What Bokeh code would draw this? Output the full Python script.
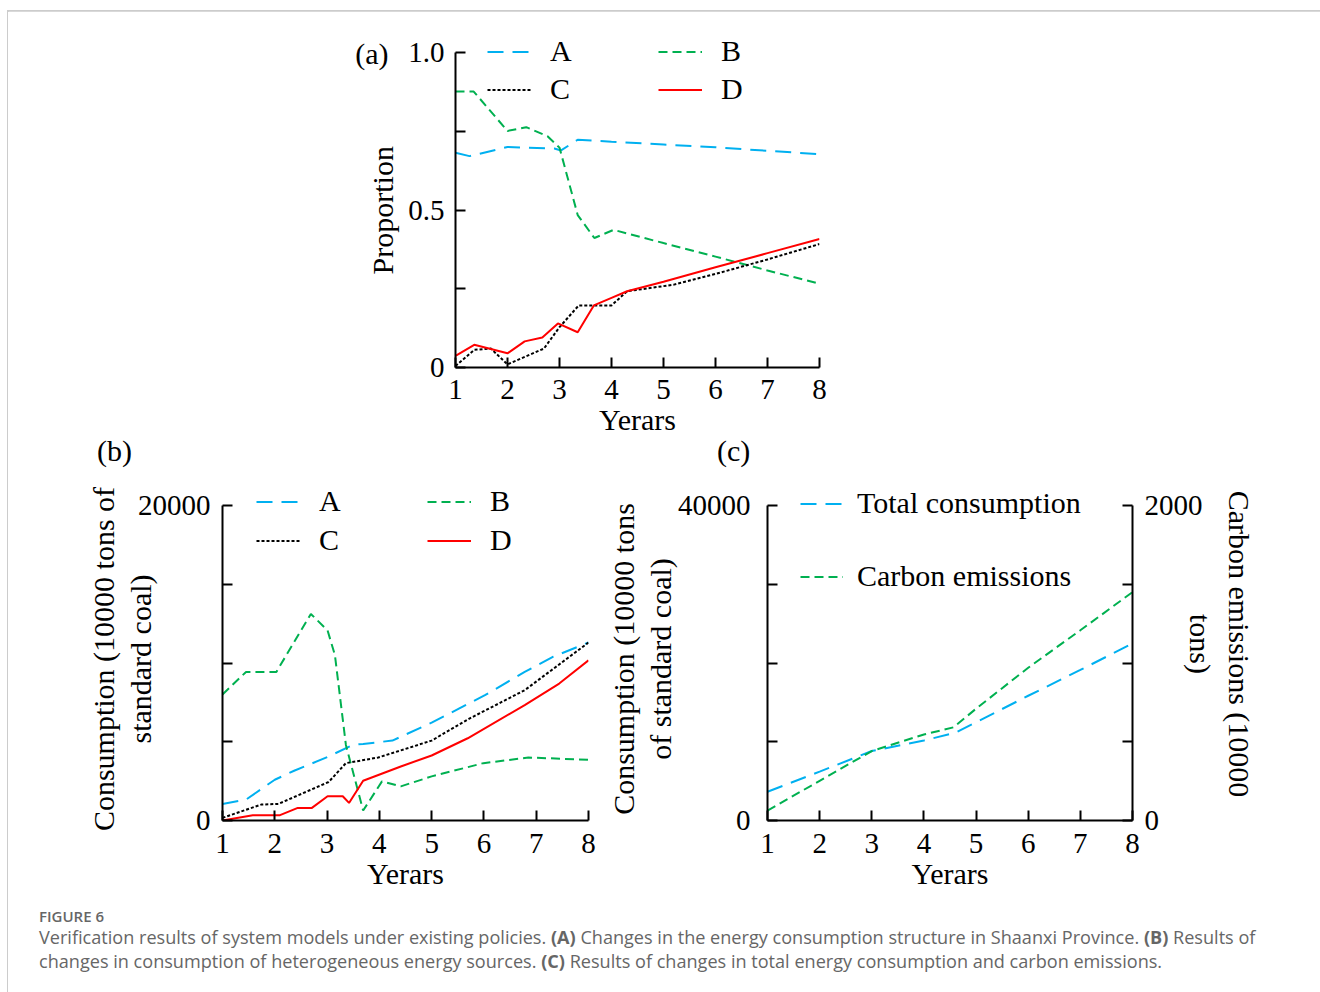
from bokeh.plotting import figure
from bokeh.models import Range1d, LinearAxis, FixedTicker, Legend, LegendItem, Div
from bokeh.layouts import column, row
from bokeh.embed import file_html
from bokeh.resources import INLINE

# ---------------- data ----------------
year_ticks = [1, 2, 3, 4, 5, 6, 7, 8]

# (a) proportion of energy consumption structure
a_A_x = [1, 1.27, 2, 2.9, 3.03, 3.35, 4, 5, 6, 7, 8]
a_A_y = [0.682, 0.671, 0.700, 0.695, 0.689, 0.723, 0.717, 0.708, 0.699, 0.688, 0.677]
a_B_x = [1, 1.35, 2, 2.36, 2.77, 3, 3.35, 3.67, 4.04, 5, 6, 7, 8]
a_B_y = [0.876, 0.876, 0.751, 0.763, 0.734, 0.698, 0.484, 0.411, 0.437, 0.395, 0.352, 0.308, 0.266]
a_C_x = [1, 1.36, 1.68, 2, 2.7, 3, 3.37, 3.67, 4, 4.3, 5.2, 6, 7, 8]
a_C_y = [0.005, 0.056, 0.060, 0.010, 0.060, 0.128, 0.197, 0.197, 0.197, 0.242, 0.263, 0.297, 0.343, 0.392]
a_D_x = [1, 1.36, 2, 2.33, 2.67, 2.97, 3.35, 3.66, 4.0, 4.3, 5, 6, 7, 8]
a_D_y = [0.037, 0.072, 0.045, 0.083, 0.095, 0.140, 0.112, 0.197, 0.221, 0.242, 0.272, 0.318, 0.363, 0.408]

# (b) consumption of heterogeneous energy sources
b_A_x = [1, 1.45, 2.0, 2.37, 3.03, 3.49, 3.69, 4.25, 5.0, 5.53, 6.02, 6.78, 7.31, 8]
b_A_y = [1053, 1326, 2589, 3158, 4063, 4800, 4863, 5074, 6210, 7116, 7958, 9432, 10379, 11300]
b_B_x = [1, 1.45, 2.03, 2.69, 3.01, 3.15, 3.36, 3.69, 4.05, 4.41, 5.0, 5.99, 6.85, 8]
b_B_y = [8000, 9432, 9432, 13116, 12063, 10500, 4800, 632, 2484, 2168, 2800, 3642, 4000, 3853]
b_C_x = [1, 1.74, 2.07, 3.03, 3.36, 3.98, 5.0, 5.73, 6.78, 8]
b_C_y = [168, 1010, 1053, 2442, 3642, 4000, 5074, 6484, 8274, 11300]
b_D_x = [1, 1.58, 2.1, 2.44, 2.71, 3.01, 3.3, 3.42, 3.69, 4.41, 5.0, 5.69, 6.78, 7.44, 8]
b_D_y = [0, 337, 337, 800, 800, 1537, 1537, 1116, 2526, 3432, 4126, 5221, 7326, 8695, 10168]

# (c) total consumption (left axis) and carbon emissions (right axis)
c_total_x = [1, 2, 3, 4, 4.6, 5, 6, 7, 8]
c_total_y = [3655, 6200, 8824, 10168, 11134, 12479, 15840, 19118, 22479]
c_carbon_x = [1, 2, 3, 4, 4.57, 5, 6, 7, 8]
c_carbon_y = [63, 252, 441, 546, 592, 710, 970, 1208, 1450]

# ---------------- style ----------------
SERIF = "Liberation Serif"
TICK_FS = "29px"
LABEL_FS = "30px"
LEG_FS = "30px"
BLUE, GREEN, RED, BLACK = "#00B0F0", "#00B050", "#FF0000", "#000000"
DASH_A, DASH_B, DASH_C = "16 9", "9 5", "3 2"
NB = "\u00a0"
AXIS_PX = 315  # pixel length of the drawn value axes


def base_fig(fw, fh, bl, br, bt, bb, y_max):
    # the frame is a bit taller than the drawn axis so the legends fit; axis bounds stop the axis at y_max
    y_end = y_max * fh / AXIS_PX
    p = figure(frame_width=fw, frame_height=fh,
               min_border_left=bl, min_border_right=br,
               min_border_top=bt, min_border_bottom=bb,
               x_range=Range1d(1, 8), y_range=Range1d(0, y_end),
               output_backend="svg", toolbar_location=None, tools="")
    p.outline_line_color = None
    p.grid.visible = False
    p.background_fill_color = "white"
    p.border_fill_color = "white"
    return p


def style_axis(ax, ticks, minor, overrides, label_standoff, axis_standoff, line_h=1.13):
    ax.ticker = FixedTicker(ticks=ticks, minor_ticks=minor)
    ax.axis_line_width = 2
    ax.axis_line_color = "black"
    ax.major_tick_in = 10
    ax.major_tick_out = 0
    ax.minor_tick_in = 10
    ax.minor_tick_out = 0
    ax.major_tick_line_width = 2
    ax.minor_tick_line_width = 2
    ax.major_tick_line_color = "black"
    ax.minor_tick_line_color = "black"
    ax.major_label_text_font = SERIF
    ax.major_label_text_font_size = TICK_FS
    ax.major_label_text_color = "black"
    ax.major_label_standoff = label_standoff
    ax.axis_label_text_font = SERIF
    ax.axis_label_text_font_size = LABEL_FS
    ax.axis_label_text_font_style = "normal"
    ax.axis_label_text_color = "black"
    ax.axis_label_standoff = axis_standoff
    ax.axis_label_text_line_height = line_h
    if overrides:
        ax.major_label_overrides = overrides


def add_legend(p, items, x, y, spacing, glyph_w=44, standoff=19):
    lg = Legend(items=items, location=(x, y), padding=0, margin=0, spacing=spacing,
                glyph_width=glyph_w, glyph_height=33, label_height=33,
                label_standoff=standoff, label_text_font=SERIF,
                label_text_font_size=LEG_FS, label_text_color="black",
                border_line_alpha=0, background_fill_alpha=0)
    p.add_layout(lg, "center")


# ---------------- panel (a) ----------------
pa = base_fig(364, 337, 447, 501, 19, 71, 1.0)
xa, ya = pa.xaxis[0], pa.yaxis[0]
style_axis(xa, year_ticks, [], None, 12, 1)
style_axis(ya, [0, 0.5, 1.0], [0.25, 0.75], {0: "0", 0.5: "0.5", 1: "1.0"}, 11, 6)
ya.bounds = (0, 1.0)
xa.axis_label = "Yerars"
ya.axis_label = "Proportion" + NB * 3
ra = pa.line(a_A_x, a_A_y, line_color=BLUE, line_width=2, line_dash=DASH_A)
rb = pa.line(a_B_x, a_B_y, line_color=GREEN, line_width=2, line_dash=DASH_B)
rc = pa.line(a_C_x, a_C_y, line_color=BLACK, line_width=2, line_dash=DASH_C)
rd = pa.line(a_D_x, a_D_y, line_color=RED, line_width=2)
add_legend(pa, [LegendItem(label="A", renderers=[ra]), LegendItem(label="C", renderers=[rc])], 32, 261, 4)
add_legend(pa, [LegendItem(label="B", renderers=[rb]), LegendItem(label="D", renderers=[rd])], 203, 261, 4)
# panel tag "(a)" as the lone label of an extra, line-less left axis
tag_pos = 0.9968
tag_ax = LinearAxis(ticker=FixedTicker(ticks=[tag_pos], minor_ticks=[]))
tag_ax.axis_line_color = None
tag_ax.major_tick_line_color = None
tag_ax.minor_tick_line_color = None
tag_ax.major_label_text_font = SERIF
tag_ax.major_label_text_font_size = LABEL_FS
tag_ax.major_label_text_color = "black"
tag_ax.major_label_standoff = -31
tag_ax.major_label_overrides = {tag_pos: "(a)"}
pa.add_layout(tag_ax, "left")

# ---------------- panel (b) ----------------
pb = base_fig(366, 338, 214, 12, 14, 75, 20000)
xb, yb = pb.xaxis[0], pb.yaxis[0]
style_axis(xb, year_ticks, [], None, 13, 1)
style_axis(yb, [0, 20000], [5000, 10000, 15000], None, 12, -22)
yb.bounds = (0, 20000)
xb.axis_label = "Yerars"
yb.axis_label = "Consumption (10000 tons of" + NB * 2 + "\nstandard coal)" + NB * 2
rba = pb.line(b_A_x, b_A_y, line_color=BLUE, line_width=2, line_dash=DASH_A)
rbb = pb.line(b_B_x, b_B_y, line_color=GREEN, line_width=2, line_dash=DASH_B)
rbc = pb.line(b_C_x, b_C_y, line_color=BLACK, line_width=2, line_dash=DASH_C)
rbd = pb.line(b_D_x, b_D_y, line_color=RED, line_width=2)
add_legend(pb, [LegendItem(label="A", renderers=[rba]), LegendItem(label="C", renderers=[rbc])], 34, 263, 5)
add_legend(pb, [LegendItem(label="B", renderers=[rbb]), LegendItem(label="D", renderers=[rbd])], 205, 263, 5)

# ---------------- panel (c) ----------------
pc = base_fig(365, 338, 167, 188, 14, 75, 40000)
pc.extra_y_ranges = {"carbon": Range1d(0, 2000 * 338 / AXIS_PX)}
xc, yc = pc.xaxis[0], pc.yaxis[0]
style_axis(xc, year_ticks, [], None, 13, 1)
style_axis(yc, [0, 40000], [10000, 20000, 30000], None, 17, -2)
yc.bounds = (0, 40000)
xc.axis_label = "Yerars"
yc.axis_label = "Consumption (10000 tons" + NB * 2 + "\nof standard coal)" + NB * 2
right_ax = LinearAxis(y_range_name="carbon")
style_axis(right_ax, [0, 2000], [500, 1000, 1500], None, 12, -22, 1.2)
right_ax.bounds = (0, 2000)
right_ax.axis_label = "Carbon emissions (10000" + NB * 2 + "\ntons)" + NB * 2
pc.add_layout(right_ax, "right")
rt = pc.line(c_total_x, c_total_y, line_color=BLUE, line_width=2, line_dash=DASH_A)
rce = pc.line(c_carbon_x, c_carbon_y, line_color=GREEN, line_width=2, line_dash=DASH_B,
              y_range_name="carbon")
add_legend(pc, [LegendItem(label="Total consumption", renderers=[rt]),
                LegendItem(label="Carbon emissions", renderers=[rce])], 33, 227, 39, 43, 14)

# ---------------- frame lines, panel tags & caption ----------------
top_strip = Div(text='<div style="padding:9px 0 0 7px;"><div style="width:1313px;height:2px;'
                     'background:#cccccc;"></div></div>', width=1320, height=11, margin=0)
left_strip = Div(text='<div style="padding-left:7px;"><div style="width:1px;height:981px;'
                      'background:#cccccc;"></div></div>', width=8, height=981, margin=0)
tags = Div(text=(
    '<div style="position:relative;width:1312px;height:30px;font-family:\'Liberation Serif\';'
    'font-size:30px;line-height:30px;color:#000000;">'
    '<span style="position:absolute;left:89px;top:-2px;">(b)</span>'
    '<span style="position:absolute;left:709px;top:-2px;">(c)</span></div>'),
    width=1312, height=30, margin=0)
caption_html = (
    '<div style="padding:12px 0 0 31px;font-family:\'Open Sans\';color:#666666;">'
    '<div style="font-size:15px;font-weight:600;line-height:18px;">FIGURE 6</div>'
    '<div style="font-size:18.1px;line-height:24px;white-space:nowrap;">'
    'Verification results of system models under existing policies. <b>(A)</b> Changes in the energy '
    'consumption structure in Shaanxi Province. <b>(B)</b> Results of<br>'
    'changes in consumption of heterogeneous energy sources. <b>(C)</b> Results of changes in total '
    'energy consumption and carbon emissions.</div></div>'
)
caption = Div(text=caption_html, width=1312, height=97, margin=0)

main = column(pa, tags, row(pb, pc), caption)
layout = column(top_strip, row(left_strip, main))

open("out.html", "w").write(file_html(layout, INLINE))
